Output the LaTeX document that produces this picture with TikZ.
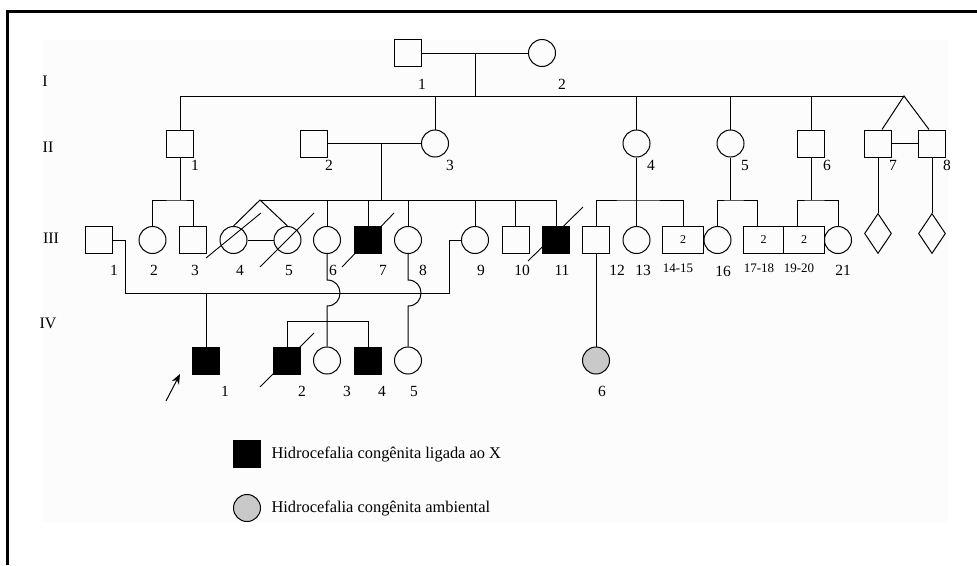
\documentclass[tikz,border=0pt]{standalone}
\usepackage{fontspec}
\setmainfont{Liberation Serif}
\usetikzlibrary{shapes.geometric,arrows.meta}
\begin{document}
\begin{tikzpicture}[x=1pt,y=-1pt,line width=1pt,
  male/.style={draw,rectangle,minimum size=27pt,inner sep=0pt},
  female/.style={draw,circle,minimum size=27pt,inner sep=0pt},
  aff/.style={fill=black},
  env/.style={fill=black!21},
  unk/.style={draw,diamond,minimum width=27pt,minimum height=40pt,inner sep=0pt},
  multi/.style={draw,rectangle,minimum width=40.5pt,minimum height=27pt,inner sep=0pt,font=\fontsize{12}{14}\selectfont},
  lab/.style={inner sep=0pt,font=\fontsize{15.5}{18}\selectfont},
  slab/.style={inner sep=0pt,font=\fontsize{13}{15}\selectfont},
  gen/.style={inner sep=0pt,font=\fontsize{16}{18}\selectfont},
  legtext/.style={inner sep=0pt,anchor=west,font=\fontsize{16.4}{19}\selectfont},
  slash/.style={line width=0.9pt}
]
\useasboundingbox (0,0) rectangle (977,565);
\fill[white] (0,0) rectangle (977,565);
\fill[black!1] (42,40) rectangle (948,522);
\draw[line width=3pt] (7,565) -- (7,11) -- (977,11);

% generation labels
\node[gen] (gI) at (45,81) {I};
\node[gen] (gII) at (48,147) {II};
\node[gen] (gIII) at (51,238) {III};
\node[gen] (gIV) at (48,323) {IV};

% generation I
\node[male] (I1) at (408,53) {};
\node[female] (I2) at (542,53) {};
\node[lab] (lI1) at (422,84) {1};
\node[lab] (lI2) at (562,84) {2};

% generation II
\node[male] (II1) at (180,143.5) {};
\node[male] (II2) at (313.5,143.5) {};
\node[female] (II3) at (435,143.5) {};
\node[female] (II4) at (636.5,143.5) {};
\node[female] (II5) at (730.5,143.5) {};
\node[male] (II6) at (811,143.5) {};
\node[male] (II7) at (878,143.5) {};
\node[male] (II8) at (932,143.5) {};
\node[lab] (lII1) at (195,165) {1};
\node[lab] (lII2) at (329,165) {2};
\node[lab] (lII3) at (450,165) {3};
\node[lab] (lII4) at (651,165) {4};
\node[lab] (lII5) at (745,165) {5};
\node[lab] (lII6) at (827,165) {6};
\node[lab] (lII7) at (893,165) {7};
\node[lab] (lII8) at (947,165) {8};

% generation III
\node[male] (III1) at (99,240) {};
\node[female] (III2) at (152.5,240) {};
\node[male] (III3) at (193,240) {};
\node[female] (III4) at (233.5,240) {};
\node[female] (III5) at (287.5,240) {};
\node[female] (III6) at (327,240) {};
\node[male,aff] (III7) at (368,240) {};
\node[female] (III8) at (408,240) {};
\node[female] (III9) at (475,240) {};
\node[male] (III10) at (515.5,240) {};
\node[male,aff] (III11) at (556,240) {};
\node[male] (III12) at (596,240) {};
\node[female] (III13) at (636.5,240) {};
\node[multi] (III1415) at (683,240) {2};
\node[female] (III16) at (717.5,240) {};
\node[multi] (III1718) at (763.5,240) {2};
\node[multi] (III1920) at (804,240) {2};
\node[female] (III21) at (838,240) {};
\node[unk] (D1) at (878,233.5) {};
\node[unk] (D2) at (932,233.5) {};
\node[lab] (lIII1) at (114,270) {1};
\node[lab] (lIII2) at (154,270) {2};
\node[lab] (lIII3) at (195,270) {3};
\node[lab] (lIII4) at (240,270) {4};
\node[lab] (lIII5) at (289,270) {5};
\node[lab] (lIII6) at (333,270) {6};
\node[lab] (lIII7) at (383,270) {7};
\node[lab] (lIII8) at (423,270) {8};
\node[lab] (lIII9) at (481,270) {9};
\node[lab] (lIII10) at (522,270) {10};
\node[lab] (lIII11) at (562,270) {11};
\node[lab] (lIII12) at (617,270) {12};
\node[lab] (lIII13) at (643,270) {13};
\node[slab] (lIII1415) at (678,268) {14-15};
\node[lab] (lIII16) at (723,271) {16};
\node[slab] (lIII1718) at (759,268) {17-18};
\node[slab] (lIII1920) at (799,268) {19-20};
\node[lab] (lIII21) at (843,270) {21};

% generation IV
\node[male,aff] (IV1) at (206,360.5) {};
\node[male,aff] (IV2) at (287,360.5) {};
\node[female] (IV3) at (327,360.5) {};
\node[male,aff] (IV4) at (368,360.5) {};
\node[female] (IV5) at (408,360.5) {};
\node[female,env] (IV6) at (596,360.5) {};
\node[lab] (lIV1) at (225,391) {1};
\node[lab] (lIV2) at (302,391) {2};
\node[lab] (lIV3) at (347,391) {3};
\node[lab] (lIV4) at (382,391) {4};
\node[lab] (lIV5) at (414,391) {5};
\node[lab] (lIV6) at (602,391) {6};

% junction coordinates
\coordinate (mI) at (475,53);
\coordinate (sI) at (475,96);
\coordinate (tw) at (904,96);
\coordinate (mII) at (381,143.5);
\coordinate (sII23) at (381,200);
\coordinate (tw45) at (260,200);
\coordinate (sII1) at (180,200);
\coordinate (sII4) at (636.5,200);
\coordinate (sII5) at (730.5,200);
\coordinate (sII6) at (811,200);
\coordinate (c1) at (125.7,240);
\coordinate (c2) at (125.7,293);
\coordinate (c3) at (449,293);
\coordinate (c4) at (449,240);
\coordinate (m19) at (206,293);
\coordinate (h6a) at (327,280);
\coordinate (h6b) at (327,306);
\coordinate (h8a) at (408,280);
\coordinate (h8b) at (408,306);
\coordinate (sIVl) at (287,321);
\coordinate (sIVr) at (368,321);

% generation I connectors
\draw (I1) -- (I2);
\draw (mI) -- (sI);
\draw (II1.north |- sI) -- (tw);
\foreach \n in {II1,II3,II4,II5,II6} \draw (\n.north) -- (\n.north |- sI);
\draw (II7.north -| 882,0) -- (tw) -- (II8.north -| 929,0);
\draw (II7) -- (II8);

% generation II connectors
\draw (II2) -- (II3);
\draw (mII) -- (sII23);
\draw (tw45) -- (III11.north |- tw45);
\foreach \n in {III6,III7,III8,III9,III10,III11} \draw (\n.north) -- (\n.north |- tw45);
\draw (III4.north) -- (tw45) -- (III5.north);
\draw (III4) -- (III5);
\draw (II1.south) -- (sII1);
\draw (III2.north) |- (sII1) -| (III3.north);
\draw (II4.south) -- (sII4);
\draw (III12.north) |- (sII4) -| (III1415.north);
\draw (III13.north) -- (sII4);
\draw (II5.south) -- (sII5);
\draw (III16.north) |- (sII5) -| ([xshift=-6.5pt]III1718.north);
\draw (II6.south) -- (sII6);
\draw ([xshift=-7pt]III1920.north) |- (sII6) -| (III21.north);
\draw (II7.south) -- (D1.north);
\draw (II8.south) -- (D2.north);

% generation III connectors
\draw (III1.east) -- (c1) -- (c2) -- (c3) -- (c4) -- (III9.west);
\draw (m19) -- (IV1.north);
\draw (III6.south) -- (h6a) .. controls (344.3,280) and (344.3,306) .. (h6b) -- (IV3.north);
\draw (III8.south) -- (h8a) .. controls (425.3,280) and (425.3,306) .. (h8b) -- (IV5.north);
\draw (IV2.north) |- (sIVl) -- (sIVr) -- (IV4.north);
\draw (III12.south) -- (IV6.north);

% deceased slashes
\draw[slash] (206,258) -- (261,213);
\draw[slash] (260,267) -- (314,213);
\draw[slash] (342,267) -- (394,213);
\draw[slash] (528,261) -- (583,207);
\draw[slash] (260,387) -- (314,333);

% proband arrow
\coordinate (arA) at (166,401);
\draw[-{Stealth[length=10pt,width=8pt]}] (arA) -- (180,374);

% legend
\node[male,aff] (legA) at (247,454) {};
\node[female,env] (legB) at (247,508) {};
\node[legtext] (legAt) at (271,454) {Hidrocefalia congênita ligada ao X};
\node[legtext] (legBt) at (271,508) {Hidrocefalia congênita ambiental};
\end{tikzpicture}
\end{document}
